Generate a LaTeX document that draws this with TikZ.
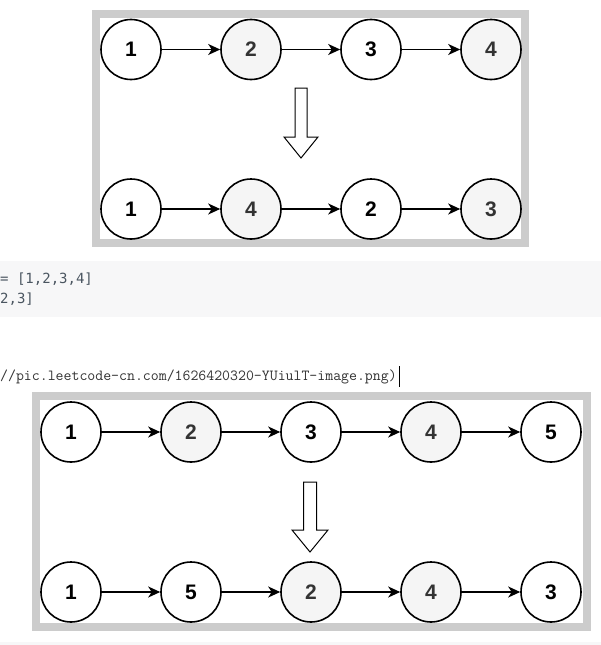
\documentclass[tikz,border=0pt]{standalone}
\usepackage{fontspec}
\setmainfont{Liberation Sans}
\newfontfamily\codefont{DejaVu Sans Mono}
\usetikzlibrary{arrows.meta}
\definecolor{framegray}{HTML}{CCCCCC}
\definecolor{nodegray}{HTML}{F5F5F5}
\definecolor{txtgray}{HTML}{333333}
\definecolor{codebg}{HTML}{F7F7F8}
\definecolor{codetxt}{HTML}{4A5560}
\tikzset{
  lnode/.style={circle, draw=black, line width=1.6pt, minimum size=60pt, inner sep=0pt,
    font=\fontsize{21}{21}\selectfont\bfseries, text=black, fill=white},
  gnode/.style={lnode, fill=nodegray, text=txtgray},
  conn/.style={line width=1.4pt, -{Stealth[length=12pt,width=11pt,inset=3.5pt]}},
  frame/.style={draw=framegray, line width=8pt},
  hollow/.style={draw=black, line width=1pt, fill=white, line join=miter}
}
\begin{document}
\begin{tikzpicture}[x=1pt,y=-1pt]
\useasboundingbox (0,0) rectangle (601,645);
\fill[white] (0,0) rectangle (601,645);
% ---------- first diagram ----------
\draw[frame] (96,14) rectangle (525,243);
\node[lnode] (a1) at (131,49.5) {1};
\node[gnode] (a2) at (251,49.5) {2};
\node[lnode] (a3) at (371,49.5) {3};
\node[gnode] (a4) at (491,49.5) {4};
\draw[conn] (a1) -- (a2);
\draw[conn] (a2) -- (a3);
\draw[conn] (a3) -- (a4);
\draw[hollow] (295,88) -- (307,88) -- (307,137) -- (318,137) -- (301,158) -- (284,137) -- (295,137) -- cycle;
\node[lnode] (b1) at (131,209) {1};
\node[gnode] (b2) at (251,209) {4};
\node[lnode] (b3) at (371,209) {2};
\node[gnode] (b4) at (491,209) {3};
\draw[conn] (b1) -- (b2);
\draw[conn] (b2) -- (b3);
\draw[conn] (b3) -- (b4);
% ---------- code block ----------
\fill[codebg] (0,261) rectangle (601,317);
\node[anchor=west, inner sep=0pt, text=codetxt, font=\codefont\fontsize{14}{14}\selectfont] (c1) at (0,279) {= [1,2,3,4]};
\node[anchor=west, inner sep=0pt, text=codetxt, font=\codefont\fontsize{14}{14}\selectfont] (c2) at (0,299) {2,3]};
% ---------- link line ----------
\node[anchor=west, inner sep=0pt, text=txtgray, font=\ttfamily\fontsize{15.4}{15.4}\selectfont] (lk) at (0,377) {//pic.leetcode-cn.com/1626420320-YUiulT-image.png)};
\draw[black, line width=0.8pt] ([xshift=2pt]lk.east |- 0,366) -- ([xshift=2pt]lk.east |- 0,387);
% ---------- second diagram ----------
\draw[frame] (36,396) rectangle (587,627);
\node[lnode] (d1) at (71,432) {1};
\node[gnode] (d2) at (191,432) {2};
\node[lnode] (d3) at (311,432) {3};
\node[gnode] (d4) at (431,432) {4};
\node[lnode] (d5) at (551,432) {5};
\draw[conn] (d1) -- (d2);
\draw[conn] (d2) -- (d3);
\draw[conn] (d3) -- (d4);
\draw[conn] (d4) -- (d5);
\draw[hollow] (303.5,482) -- (316.5,482) -- (316.5,530) -- (328,530) -- (310,552) -- (292,530) -- (303.5,530) -- cycle;
\node[lnode] (e1) at (71,592) {1};
\node[lnode] (e2) at (191,592) {5};
\node[gnode] (e3) at (311,592) {2};
\node[gnode] (e4) at (431,592) {4};
\node[lnode] (e5) at (551,592) {3};
\draw[conn] (e1) -- (e2);
\draw[conn] (e2) -- (e3);
\draw[conn] (e3) -- (e4);
\draw[conn] (e4) -- (e5);
% bottom strip
\fill[codebg] (0,642) rectangle (601,645);
\end{tikzpicture}
\end{document}
